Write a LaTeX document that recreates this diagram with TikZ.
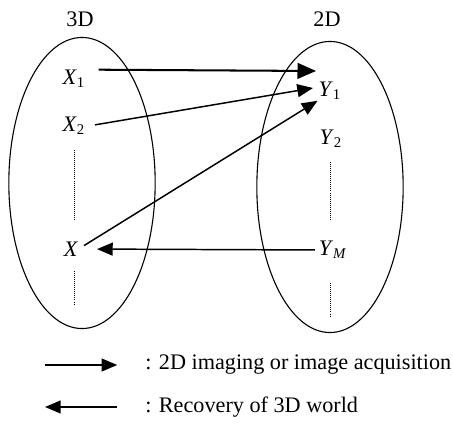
\documentclass[tikz,border=0pt]{standalone}
\usepackage{fontspec}
\setmainfont{Liberation Serif}
\usepackage{tikz}
\usetikzlibrary{arrows.meta,positioning,shapes.geometric,calc}

\begin{document}
\begin{tikzpicture}[
  x=0.019cm, y=-0.019cm,
  font=\fontsize{12}{14}\selectfont,
  lbl/.style={inner sep=0pt, align=center},
  world/.style={draw, ellipse, inner sep=0pt, line width=0.6pt, minimum width=2.78cm, minimum height=5.53cm},
  arrline/.style={-{Triangle[length=8.5pt,width=7pt]}, line width=0.8pt},
  bigarr/.style={-{Triangle[length=10pt,width=8.5pt]}, line width=1.1pt},
  dotline/.style={line width=0.4pt, dash pattern=on 0.4pt off 0.7pt},
]
\useasboundingbox (0,0) rectangle (453,424);

% ============ the two worlds ============
\node[world] (world3) at (82,183) {};
\node[world] (world2) at (330,187) {};
\node[lbl] (t3D) at (80,19) {3D};
\node[lbl] (t2D) at (327,19) {2D};

% ============ 3D points ============
\node[lbl] (X1) at (74,79) {\textit{X}\textsubscript{1}};
\node[lbl] (X2) at (74,126) {\textit{X}\textsubscript{2}};
\node[lbl] (X) at (71,249) {\textit{X}};
\draw[dotline] (74,150) -- (74,220);
\draw[dotline] (74,271) -- (74,305);

% ============ 2D points ============
\node[lbl] (Y1) at (330,91) {\textit{Y}\textsubscript{1}};
\node[lbl] (Y2) at (331,139) {\textit{Y}\textsubscript{2}};
\node[lbl] (YM) at (333,250) {\textit{Y}\textsubscript{\textit{M}}};
\draw[dotline] (330,162) -- (330,221);
\draw[dotline] (330,283) -- (330,317);

% ===================== ARROWS =====================
\coordinate (tipA) at (316,71);
\coordinate (tipB) at (313,88);

% X1 -> above Y1 (bold)
\draw[bigarr] ([xshift=7pt]X1.north east) -- (tipA);

% X2 -> Y1
\draw[arrline] ([xshift=5pt,yshift=0.6pt]X2.east) -- (tipB);

% X -> Y1
\draw[arrline, shorten <=3.5pt, shorten >=0.5pt] (X.east) -- (Y1.south west);

% Y_M -> X (recovery)
\draw[arrline, shorten <=2pt, shorten >=10pt] (YM.west) -- (X.east);

% ===================== LEGEND =====================
\node[lbl, anchor=west] (leg1) at (145,365) {: 2D imaging or image acquisition};
\node[lbl, anchor=west] (leg2) at (145,407) {: Recovery of 3D world};
\coordinate (legA) at (45,365);
\coordinate (legB) at (45,407);
\draw[arrline] (legA) -- ([xshift=-15pt]leg1.west);
\draw[arrline] ([xshift=-15pt]leg2.west) -- (legB);

\end{tikzpicture}
\end{document}
